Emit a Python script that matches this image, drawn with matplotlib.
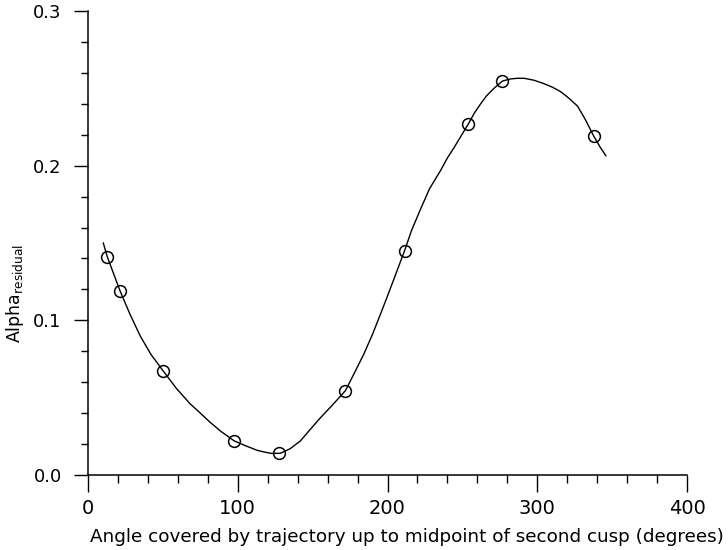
import numpy as np
import matplotlib
matplotlib.use("Agg")
import matplotlib.pyplot as plt
from matplotlib.ticker import MultipleLocator

# measured points
angle_pts = [12.9, 21.4, 50.4, 97.7, 127.3, 171.9, 211.4, 254.0, 276.7, 337.6]
alpha_pts = [0.141, 0.119, 0.067, 0.022, 0.014, 0.054, 0.145, 0.227, 0.255, 0.219]

# fitted curve through the points
curve_angle = [10.2, 12.9, 21.4, 28.0, 34.8, 42.0, 50.4, 59.0, 68.2, 75.0, 81.6,
               89.0, 97.7, 105.0, 112.8, 117.0, 122.0, 128.4, 135.0, 141.8, 148.0,
               155.2, 163.0, 171.9, 177.9, 184.1, 190.0, 195.3, 199.7, 204.2, 211.4,
               216.0, 222.1, 228.0, 235.5, 240.0, 244.4, 249.0, 254.0, 258.0, 262.2,
               266.0, 271.1, 276.7, 282.3, 286.7, 291.2, 298.0, 304.5, 310.0, 315.7,
               321.0, 326.9, 332.0, 337.6, 342.0, 345.8]
curve_alpha = [0.150, 0.141, 0.119, 0.104, 0.090, 0.078, 0.067, 0.056, 0.046, 0.040, 0.034,
               0.028, 0.022, 0.019, 0.016, 0.015, 0.014, 0.014, 0.017, 0.022, 0.029,
               0.037, 0.045, 0.0545, 0.066, 0.078, 0.091, 0.104, 0.115, 0.1265, 0.145,
               0.158, 0.172, 0.185, 0.197, 0.205, 0.2116, 0.219, 0.227, 0.234, 0.240,
               0.245, 0.250, 0.2547, 0.2561, 0.2565, 0.2565, 0.2552, 0.253, 0.2508, 0.2478,
               0.2437, 0.2385, 0.230, 0.2193, 0.212, 0.2064]

xticks = [0, 100, 200, 300, 400]
yticks = [0.0, 0.1, 0.2, 0.3]
ytick_labels = ["0.0", "0.1", "0.2", "0.3"]

fig = plt.figure(figsize=(7.28, 5.5), dpi=100)
ax = fig.add_axes([0.1209, 0.1364, 0.8228, 0.8436])

ax.plot(curve_angle, curve_alpha, color="black", lw=1.0)
ax.plot(angle_pts, alpha_pts, linestyle="none", marker="o", ms=8.5,
        mfc="none", mec="black", mew=1.1)

ax.set_xlim(0, 400)
ax.set_ylim(0, 0.3)
ax.spines["top"].set_visible(False)
ax.spines["right"].set_visible(False)
for s in ("left", "bottom"):
    ax.spines[s].set_linewidth(1.1)

ax.set_xticks(xticks)
ax.set_xticklabels([str(t) for t in xticks])
ax.set_yticks(yticks)
ax.set_yticklabels(ytick_labels)
ax.xaxis.set_minor_locator(MultipleLocator(20))
ax.yaxis.set_minor_locator(MultipleLocator(0.02))

ax.tick_params(axis="x", which="major", direction="out", length=12, width=1.0,
               labelsize=14, pad=5)
ax.tick_params(axis="x", which="minor", direction="out", length=6, width=1.0)
ax.tick_params(axis="y", which="major", direction="out", length=10, width=1.0,
               labelsize=13, pad=9)
ax.tick_params(axis="y", which="minor", direction="out", length=5, width=1.0)

ax.set_xlabel("Angle covered by trajectory up to midpoint of second cusp (degrees)",
              fontsize=13.2)
ax.xaxis.set_label_coords(0.533, -0.115)
ax.set_ylabel(r"Alpha$_{\mathrm{residual}}$", fontsize=12.5)
ax.yaxis.set_label_coords(-0.103, 0.39)

fig.savefig("out.png", dpi=100)
